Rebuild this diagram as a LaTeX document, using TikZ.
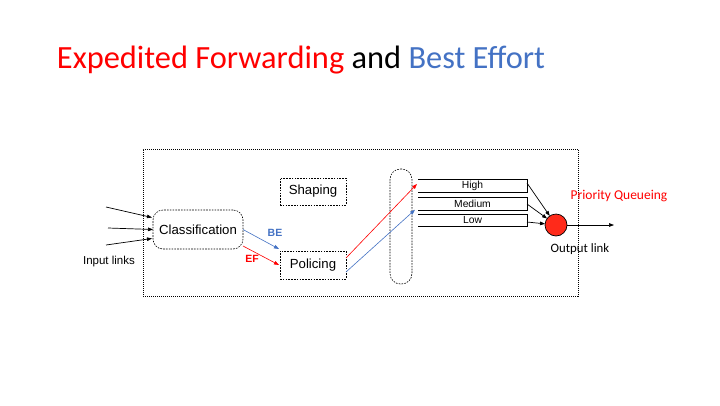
\documentclass[tikz,border=0pt]{standalone}
\usepackage{fontspec}
\setmainfont{Liberation Sans}
\newfontfamily\calibri{Carlito}
\usetikzlibrary{arrows.meta,calc}
\definecolor{efred}{HTML}{FF0000}
\definecolor{beblue}{HTML}{4472C4}
\definecolor{dotfill}{HTML}{FF2A1A}
\begin{document}
\begin{tikzpicture}[x=1pt,y=-1pt,
  every node/.style={inner sep=0pt, outer sep=0pt},
  frame/.style={draw, line width=0.6pt, dash pattern=on 1pt off 1pt},
  dashbox/.style={draw, line width=0.6pt, dash pattern=on 1.6pt off 1.2pt},
  lbl/.style={font=\fontsize{13.2}{15}\selectfont},
  qlbl/.style={font=\fontsize{10.3}{12}\selectfont},
  queue/.style={minimum width=109pt, minimum height=12.5pt, qlbl},
  tip/.style={-{Triangle[length=5pt,width=3.6pt]}, line width=0.7pt},
  qline/.style={line width=0.9pt}
]
\useasboundingbox[fill=white] (0,0) rectangle (720,405);

% title
\node[font=\calibri\fontsize{32.4}{36}\selectfont] (title) at (301,60)
  {\textcolor{efred}{Expedited Forwarding} and \textcolor{beblue}{Best Effort}};

% router frame
\node[frame, minimum width=435pt, minimum height=147pt] (router) at (360.5,222.5) {};

% functional blocks
\node[dashbox, rounded corners=10pt, minimum width=90pt, minimum height=39pt, lbl] (cls) at (198,229.5) {Classification};
\node[dashbox, minimum width=66pt, minimum height=27pt, lbl] (shp) at (313,191.5) {Shaping};
\node[dashbox, minimum width=66pt, minimum height=28pt, lbl] (pol) at (313,265) {Policing};
\node[dashbox, rounded corners=10.5pt, minimum width=22pt, minimum height=115pt] (sw) at (401,226.5) {};

% priority queues (open on the left)
\node[queue] (hq) at (472.5,186) {High};
\node[queue] (mq) at (472.5,204) {Medium};
\node[queue] (lq) at (472.5,220.5) {Low};
\foreach \q in {hq,mq,lq}
  \draw[qline] (\q.north west) -- (\q.north east) -- (\q.south east) -- (\q.south west);

% scheduler
\node[circle, draw, line width=0.7pt, fill=dotfill, minimum size=22pt] (pq) at (556,225) {};
\node[font=\calibri\fontsize{13.5}{15}\selectfont, text=efred] (pqlbl) at (619,196) {Priority Queueing};
\node[font=\calibri\fontsize{12.8}{15}\selectfont] (outlbl) at (580,249) {Output link};
\coordinate (out) at (614,225);

% input links
\coordinate (in1) at (106,207);
\coordinate (in2) at (108,228);
\coordinate (in3) at (106,245);
\node[font=\fontsize{11.5}{13}\selectfont] (inlbl) at (109,262) {Input links};
\draw[tip] (in1) -- (152,217.5);
\draw[tip] (in2) -- (cls.west);
\draw[tip] (in3) -- (152,238.5);

% classified traffic into policing
\draw[tip, beblue, line width=0.6pt] (cls.east) -- ([xshift=-1pt,yshift=2pt]pol.north west);
\node[font=\bfseries\fontsize{10.5}{12}\selectfont, text=beblue] (belbl) at (275,233) {BE};
\draw[tip, efred, line width=0.6pt] ([yshift=3pt]cls.south east) -- ([xshift=-1pt]pol.west);
\node[font=\bfseries\fontsize{10.5}{12}\selectfont, text=efred] (eflbl) at (252,259) {EF};

% policed traffic into the queues
\draw[tip, efred, line width=0.6pt] ([yshift=7pt]pol.east) -- ([xshift=-1pt,yshift=2pt]hq.west);
\draw[tip, beblue, line width=0.6pt] ([yshift=-7pt]pol.east) -- ([xshift=-3pt,yshift=0.5pt]mq.south west);

% queues into the scheduler
\draw[tip] ([yshift=3pt]hq.east) -- (pq);
\draw[tip] (mq.east) -- (pq);
\draw[tip] ([yshift=-1.5pt]lq.east) -- (pq);
\draw[tip] (pq) -- (out);
\end{tikzpicture}
\end{document}
